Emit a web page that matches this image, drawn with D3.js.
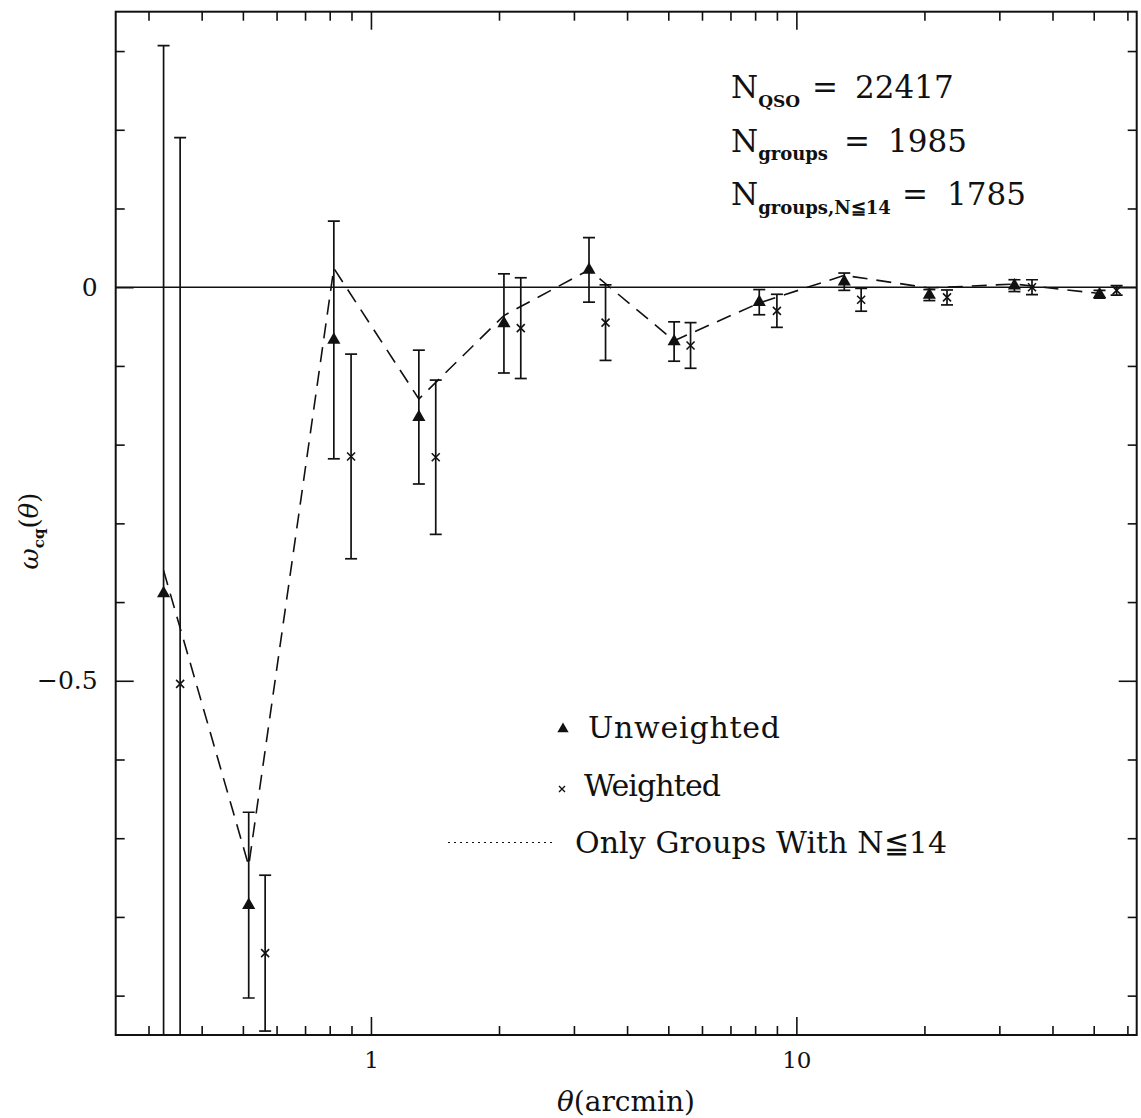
<!DOCTYPE html>
<html>
<head>
<meta charset="utf-8">
<script src="https://cdn.jsdelivr.net/npm/d3@7"></script>
<style>
  html, body { margin: 0; padding: 0; background: #fff; }
  svg text { font-family: "DejaVu Serif", "Liberation Serif", serif; fill: #111; }
</style>
</head>
<body>
<svg id="chart" width="1141" height="1118"></svg>
<script>
// Angular bins (arcmin) for the unweighted and weighted estimates
const thetaUnweighted = [0.3255, 0.516, 0.818, 1.296, 2.054, 3.255, 5.16, 8.18, 12.96, 20.54, 32.55, 51.6];
const thetaWeighted   = [0.356, 0.564, 0.898, 1.42, 2.25, 3.56, 5.64, 9.0, 14.2, 22.6, 35.8, 56.6];

// Cross-correlation w_cq(theta), unweighted pairs
const wUnweighted   = [-0.389, -0.785, -0.067, -0.165, -0.046, 0.022, -0.069, -0.019, 0.007, -0.010, 0.002, -0.009];
const errUnweighted = [0.696, 0.118, 0.151, 0.085, 0.063, 0.041, 0.025, 0.016, 0.011, 0.007, 0.0075, 0.005];

// Cross-correlation w_cq(theta), weighted pairs
const wWeighted   = [-0.504, -0.846, -0.215, -0.216, -0.052, -0.045, -0.074, -0.030, -0.016, -0.013, 0.000, -0.004];
const errWeighted = [0.694, 0.099, 0.130, 0.098, 0.064, 0.048, 0.029, 0.021, 0.0145, 0.0095, 0.0095, 0.006];

// Only groups with N <= 14 (unweighted bins)
const wSmallGroups = [-0.360, -0.735, 0.024, -0.142, -0.036, 0.022, -0.068, -0.020, 0.015, -0.001, 0.004, -0.008];

// Axis ticks
const xMajorTicks = [1, 10];
const xMinorTicks = [0.3, 0.4, 0.5, 0.6, 0.7, 0.8, 0.9, 2, 3, 4, 5, 6, 7, 8, 9, 20, 30, 40, 50, 60];
const yMajorTicks = [0, -0.5];
const yMinorTicks = [-0.9, -0.8, -0.7, -0.6, -0.4, -0.3, -0.2, -0.1, 0.1, 0.2, 0.3];

const width = 1141, height = 1118;
const margin = { top: 11.7, right: 4.3, bottom: 83, left: 115.7 };
const svg = d3.select("#chart");

const x = d3.scaleLog()
  .domain([Math.pow(10, -0.6), Math.pow(10, 1.8)])
  .range([margin.left, width - margin.right]);
const y = d3.scaleLinear()
  .domain([-0.95, 0.35])
  .range([height - margin.bottom, margin.top]);

const x0 = margin.left, x1 = width - margin.right;
const y0 = height - margin.bottom, y1 = margin.top;

svg.append("defs").append("clipPath").attr("id", "plot-clip")
  .append("rect").attr("x", x0).attr("y", y1).attr("width", x1 - x0).attr("height", y0 - y1);

// ---- axes (ticks pointing inward on all four sides) ----
function styleAxis(g) {
  g.select(".domain").remove();
  g.selectAll(".tick line").attr("stroke", "#111").attr("stroke-width", 1.6);
}
const majorLen = 18, minorLen = 9;

svg.append("g").attr("transform", `translate(0,${y0})`)
  .call(d3.axisBottom(x).tickValues(xMinorTicks).tickSize(-minorLen).tickFormat(""))
  .call(styleAxis);
const xBottom = svg.append("g").attr("transform", `translate(0,${y0})`)
  .call(d3.axisBottom(x).tickValues(xMajorTicks).tickSize(-majorLen).tickPadding(17).tickFormat(d3.format("d")))
  .call(styleAxis);
xBottom.selectAll("text").attr("font-size", 23);

svg.append("g").attr("transform", `translate(0,${y1})`)
  .call(d3.axisTop(x).tickValues(xMinorTicks).tickSize(-minorLen).tickFormat(""))
  .call(styleAxis);
svg.append("g").attr("transform", `translate(0,${y1})`)
  .call(d3.axisTop(x).tickValues(xMajorTicks).tickSize(-majorLen).tickFormat(""))
  .call(styleAxis);

svg.append("g").attr("transform", `translate(${x0},0)`)
  .call(d3.axisLeft(y).tickValues(yMinorTicks).tickSize(-minorLen).tickFormat(""))
  .call(styleAxis);
const yLeft = svg.append("g").attr("transform", `translate(${x0},0)`)
  .call(d3.axisLeft(y).tickValues(yMajorTicks).tickSize(-majorLen).tickPadding(18).tickFormat(d3.format(".1~f")))
  .call(styleAxis);
yLeft.selectAll("text").attr("font-size", 25);

svg.append("g").attr("transform", `translate(${x1},0)`)
  .call(d3.axisRight(y).tickValues(yMinorTicks).tickSize(-minorLen).tickFormat(""))
  .call(styleAxis);
svg.append("g").attr("transform", `translate(${x1},0)`)
  .call(d3.axisRight(y).tickValues(yMajorTicks).tickSize(-majorLen).tickFormat(""))
  .call(styleAxis);

// frame
svg.append("rect")
  .attr("x", x0).attr("y", y1).attr("width", x1 - x0).attr("height", y0 - y1)
  .attr("fill", "none").attr("stroke", "#111").attr("stroke-width", 2);

// zero line
svg.append("line")
  .attr("x1", x0).attr("x2", x1).attr("y1", y(0)).attr("y2", y(0))
  .attr("stroke", "#111").attr("stroke-width", 1.4);

const plot = svg.append("g").attr("clip-path", "url(#plot-clip)");

// dashed curve: groups with N <= 14
const smallGroups = thetaUnweighted.map((t, i) => ({ t, w: wSmallGroups[i] }));
plot.append("path")
  .datum(smallGroups)
  .attr("fill", "none").attr("stroke", "#111").attr("stroke-width", 1.6)
  .attr("stroke-dasharray", "15,9")
  .attr("d", d3.line().x(d => x(d.t)).y(d => y(d.w)));

// error bars
const unweighted = thetaUnweighted.map((t, i) => ({ t, w: wUnweighted[i], e: errUnweighted[i] }));
const weighted = thetaWeighted.map((t, i) => ({ t, w: wWeighted[i], e: errWeighted[i] }));
const capHalf = 6;

function drawErrorBars(data, cls) {
  const g = plot.append("g").attr("class", cls).attr("stroke", "#111").attr("stroke-width", 1.7);
  g.selectAll("line.bar").data(data).join("line").attr("class", "bar")
    .attr("x1", d => x(d.t)).attr("x2", d => x(d.t))
    .attr("y1", d => y(d.w - d.e)).attr("y2", d => y(d.w + d.e));
  g.selectAll("line.capTop").data(data).join("line").attr("class", "capTop")
    .attr("x1", d => x(d.t) - capHalf).attr("x2", d => x(d.t) + capHalf)
    .attr("y1", d => y(d.w + d.e)).attr("y2", d => y(d.w + d.e));
  g.selectAll("line.capBot").data(data).join("line").attr("class", "capBot")
    .attr("x1", d => x(d.t) - capHalf).attr("x2", d => x(d.t) + capHalf)
    .attr("y1", d => y(d.w - d.e)).attr("y2", d => y(d.w - d.e));
}
drawErrorBars(unweighted, "err-unweighted");
drawErrorBars(weighted, "err-weighted");

// markers
const triangle = d3.symbol().type(d3.symbolTriangle).size(75);
plot.append("g").selectAll("path").data(unweighted).join("path")
  .attr("transform", d => `translate(${x(d.t)},${y(d.w)})`)
  .attr("d", triangle).attr("fill", "#111");

const crossHalf = 4;
const crosses = plot.append("g").attr("stroke", "#111").attr("stroke-width", 1.6);
crosses.selectAll("path").data(weighted).join("path")
  .attr("d", d => {
    const cx = x(d.t), cy = y(d.w);
    return `M${cx - crossHalf},${cy - crossHalf}L${cx + crossHalf},${cy + crossHalf}` +
           `M${cx - crossHalf},${cy + crossHalf}L${cx + crossHalf},${cy - crossHalf}`;
  });

// ---- sample sizes ----
const info = svg.append("g").attr("font-size", 31);
const t1 = info.append("text").attr("x", 731).attr("y", 98);
t1.append("tspan").text("N");
t1.append("tspan").attr("dy", 9).attr("font-size", 17).attr("font-weight", "bold").text("QSO");
t1.append("tspan").attr("x", 812).attr("dy", -9).text("=");
t1.append("tspan").attr("x", 855).text("22417");

const t2 = info.append("text").attr("x", 731).attr("y", 152);
t2.append("tspan").text("N");
t2.append("tspan").attr("dy", 8).attr("font-size", 18).attr("font-weight", "bold").text("groups");
t2.append("tspan").attr("x", 844).attr("dy", -8).text("=");
t2.append("tspan").attr("x", 888).text("1985");

const t3 = info.append("text").attr("x", 731).attr("y", 205);
t3.append("tspan").text("N");
t3.append("tspan").attr("dy", 9).attr("font-size", 18).attr("font-weight", "bold").text("groups,N≦14");
t3.append("tspan").attr("x", 902).attr("dy", -9).text("=");
t3.append("tspan").attr("x", 947).text("1785");

// ---- legend ----
const legend = svg.append("g").attr("font-size", 30);
legend.append("path").attr("transform", "translate(563,729)")
  .attr("d", d3.symbol().type(d3.symbolTriangle).size(55)).attr("fill", "#111");
legend.append("text").attr("x", 588).attr("y", 738).attr("textLength", 192).attr("lengthAdjust", "spacing").text("Unweighted");

legend.append("path").attr("stroke", "#111").attr("stroke-width", 1.4)
  .attr("d", "M559,786L565,792M559,792L565,786");
legend.append("text").attr("x", 584).attr("y", 796).attr("textLength", 137).attr("lengthAdjust", "spacing").text("Weighted");

legend.append("line").attr("x1", 448).attr("x2", 554).attr("y1", 842.5).attr("y2", 842.5)
  .attr("stroke", "#111").attr("stroke-width", 1.2).attr("stroke-dasharray", "2,4");
legend.append("text").attr("x", 575).attr("y", 853).attr("textLength", 372).attr("lengthAdjust", "spacing").text("Only Groups With N≦14");

// ---- axis titles ----
const xTitle = svg.append("text").attr("x", 626).attr("y", 1111)
  .attr("text-anchor", "middle").attr("font-size", 28);
xTitle.append("tspan").attr("font-style", "italic").text("θ");
xTitle.append("tspan").text("(arcmin)");

const yTitle = svg.append("text")
  .attr("transform", "translate(38,531) rotate(-90)")
  .attr("text-anchor", "middle").attr("font-size", 26);
yTitle.append("tspan").attr("font-style", "italic").text("ω");
yTitle.append("tspan").attr("dy", 6).attr("font-size", 15).attr("font-weight", "bold").text("cq");
yTitle.append("tspan").attr("dy", -6).text("(");
yTitle.append("tspan").attr("font-style", "italic").text("θ");
yTitle.append("tspan").text(")");
</script>
</body>
</html>
